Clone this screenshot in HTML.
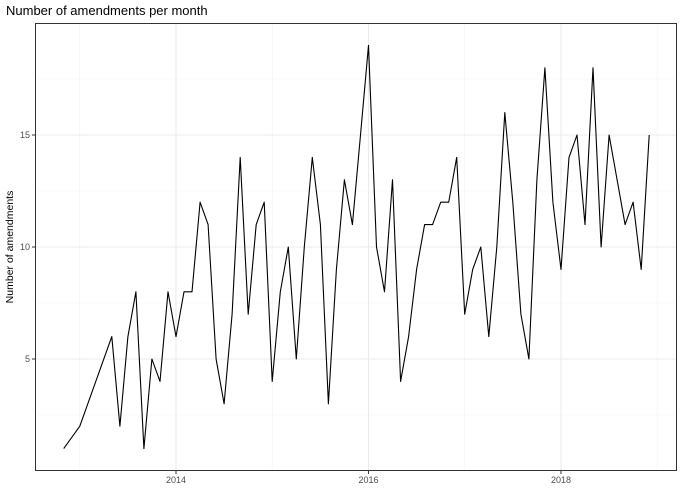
<!DOCTYPE html>
<html><head><meta charset="utf-8"><style>
body{margin:0;background:#fff;}
svg{display:block;font-family:"Liberation Sans",sans-serif;}
</style></head><body>
<svg id="chart" width="684" height="504">
<text x="6" y="15" font-size="13" fill="#000">Number of amendments per month</text>
<text transform="translate(13,247) rotate(-90)" text-anchor="middle" font-size="10.5" fill="#000">Number of amendments</text>
<g id="grid"></g>
<g id="series"></g>
<g id="axes"></g>
<rect x="35.5" y="23.5" width="641" height="447" fill="none" stroke="#333" stroke-width="1"/>
</svg>
<script>
// months since Jan 2014
const months = [-14,-12,-8,-7,-6,-5,-4,-3,-2,-1,0,1,2,3,4,5,6,7,8,9,10,11,12,13,14,15,16,17,18,19,20,21,22,23,24,25,26,27,28,29,30,31,32,33,34,35,36,37,38,39,40,41,42,43,44,45,46,47,48,49,50,51,52,53,54,55,56,57,58,59];
const amendments = [1,2,6,2,6,8,1,5,4,8,6,8,8,12,11,5,3,7,14,7,11,12,4,8,10,5,10,14,11,3,9,13,11,15,19,10,8,13,4,6,9,11,11,12,12,14,7,9,10,6,10,16,12,7,5,13,18,12,9,14,15,11,18,10,15,13,11,12,9,15];
const xTickYears = [2014,2016,2018];
const xMinorYears = [2013,2015,2017,2019];
const yTicks = [5,10,15];
const yMinor = [2.5,7.5,12.5,17.5];

const NS="http://www.w3.org/2000/svg";
const xScale = m => 176 + m*8.02;
const yearX = yr => xScale((yr-2014)*12);
const yScale = v => 359 - (v-5)*22.4;
function mk(tag, attrs, parent){const e=document.createElementNS(NS,tag);for(const k in attrs)e.setAttribute(k,attrs[k]);parent.appendChild(e);return e;}
const grid=document.getElementById('grid'), axes=document.getElementById('axes'), series=document.getElementById('series');
yMinor.forEach(v=>{const l=mk('line',{x1:35,x2:677,y1:yScale(v),y2:yScale(v),stroke:'#f2f2f2','stroke-width':0.6},grid);

});
xMinorYears.forEach(yr=>{const l=mk('line',{x1:yearX(yr),x2:yearX(yr),y1:23,y2:471,stroke:'#f2f2f2','stroke-width':0.6},grid);

});
yTicks.forEach(v=>{const y=yScale(v);
const l=mk('line',{x1:35,x2:677,y1:y,y2:y,stroke:'#ebebeb','stroke-width':1.1},grid);


const t=mk('line',{x1:32,x2:35,y1:y,y2:y,stroke:'#333','stroke-width':1},axes);


const tx=mk('text',{x:30,y:y+3,'text-anchor':'end','font-size':9,fill:'#4d4d4d'},axes);tx.textContent=v;

});
xTickYears.forEach(yr=>{const x=yearX(yr);
const l=mk('line',{x1:x,x2:x,y1:23,y2:471,stroke:'#ebebeb','stroke-width':1.1},grid);


const t=mk('line',{x1:x,x2:x,y1:471,y2:474,stroke:'#333','stroke-width':1},axes);


const tx=mk('text',{x:x,y:483,'text-anchor':'middle','font-size':9,fill:'#4d4d4d'},axes);tx.textContent=yr;

});
const pts=months.map((m,i)=>xScale(m).toFixed(1)+','+yScale(amendments[i]).toFixed(1)).join(' ');
const pl=mk('polyline',{points:pts,fill:'none',stroke:'#000','stroke-width':1.1,'stroke-linejoin':'round'},series);


</script>
</body></html>
